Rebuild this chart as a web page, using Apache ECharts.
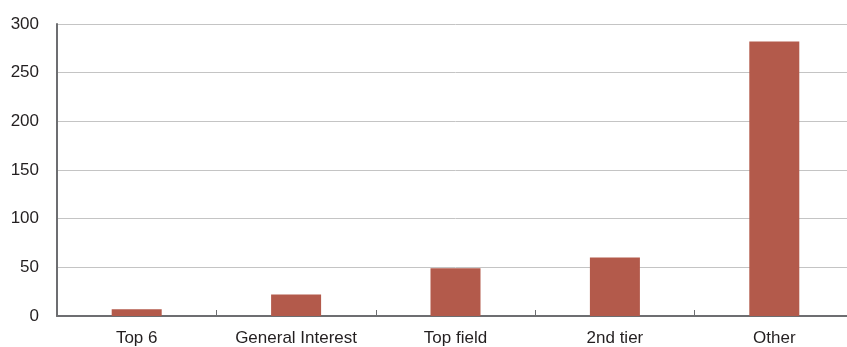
<!DOCTYPE html>
<html>
<head>
<meta charset="utf-8">
<style>
  html, body { margin: 0; padding: 0; background: #fff; overflow: hidden; }
  #main { width: 854px; height: 347px; }
</style>
<script src="https://cdn.jsdelivr.net/npm/echarts@6/dist/echarts.min.js"></script>
</head>
<body>
<div id="main"></div>
<script>
// categories and values
var categories = ['Top 6', 'General Interest', 'Top field', '2nd tier', 'Other'];
var values = [7, 22, 49, 60, 282];
var yTicks = [0, 50, 100, 150, 200, 250, 300];

// the plot runs a little past the right edge of the picture
var chart = echarts.init(document.getElementById('main'), null, { renderer: 'canvas' });

var option = {
  animation: false,
  textStyle: { fontFamily: 'Liberation Sans, Arial, sans-serif' },
  grid: { left: 57, top: 24, right: 0, bottom: 31 },
  xAxis: {
    type: 'category',
    data: categories,
    axisLine: { lineStyle: { color: '#6d6e71', width: 2 } },
    axisTick: { show: true, interval: 0, inside: true, length: 6, lineStyle: { color: '#6d6e71', width: 1 } },
    axisLabel: { color: '#231f20', fontSize: 17, margin: 14, interval: 0 }
  },
  yAxis: {
    type: 'value',
    min: yTicks[0],
    max: yTicks[yTicks.length - 1],
    interval: 50,
    axisLine: { show: true, lineStyle: { color: '#6d6e71', width: 2 } },
    axisTick: { show: false },
    axisLabel: { color: '#231f20', fontSize: 17, margin: 18 },
    splitLine: { lineStyle: { color: '#c4c4c4', width: 1 } }
  },
  series: [{
    type: 'bar',
    data: values,
    barWidth: 50,
    itemStyle: { color: '#b35a4b' }
  }]
};

chart.setOption(option);
</script>
</body>
</html>
